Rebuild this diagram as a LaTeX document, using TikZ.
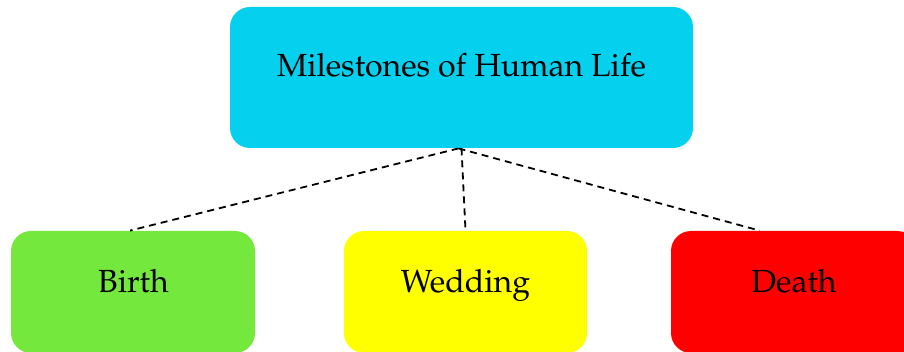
\documentclass[tikz,border=0pt]{standalone}
\usepackage[T1]{fontenc}
\usepackage{mathpazo}
\usepackage{tikz}

\definecolor{lifecyan}{RGB}{5,208,238}
\definecolor{birthgreen}{RGB}{116,232,60}
\definecolor{weddingyellow}{RGB}{255,255,0}
\definecolor{deathred}{RGB}{255,0,0}

\tikzset{
	milebox/.style={rounded corners=10pt, inner sep=0pt},
	miletext/.style={anchor=base, inner sep=0pt, font=\fontsize{16}{19}\selectfont},
	link/.style={dashed, dash pattern=on 3.5pt off 2.5pt, line width=0.9pt, color=black}
}

\begin{document}
\begin{tikzpicture}[x=0.5pt,y=-0.5pt]
	\useasboundingbox (0,0) rectangle (904,352);
	
	% Top
		\node[milebox, fill=lifecyan, minimum width=231.5pt, minimum height=70.5pt] (life) at (461.5,77.5) {};
		\node[miletext] (lifetext) at (461.5,77) {Milestones of Human Life};
		
	% Bottom row
		\node[milebox, fill=birthgreen, minimum width=122pt, minimum height=61pt] (birth) at (133,292) {};
		\node[miletext] (birthtext) at (133.5,292.7) {Birth};
		
		\node[milebox, fill=weddingyellow, minimum width=121.5pt, minimum height=61pt] (wedding) at (465.5,292) {};
		\node[miletext] (weddingtext) at (465.5,292.7) {Wedding};
		
		\node[milebox, fill=deathred, minimum width=123pt, minimum height=61pt] (death) at (794,292) {};
		\node[miletext] (deathtext) at (794,292.7) {Death};
		
	% Links
		\draw[link] ([xshift=-1.5pt]life.south) -- ([xshift=-1.5pt]birth.north);
		\draw[link] (life.south) -- (wedding.north);
		\draw[link] ([xshift=-1.5pt]life.south) -- ([xshift=44.5pt]death.north west);
\end{tikzpicture}
\end{document}
